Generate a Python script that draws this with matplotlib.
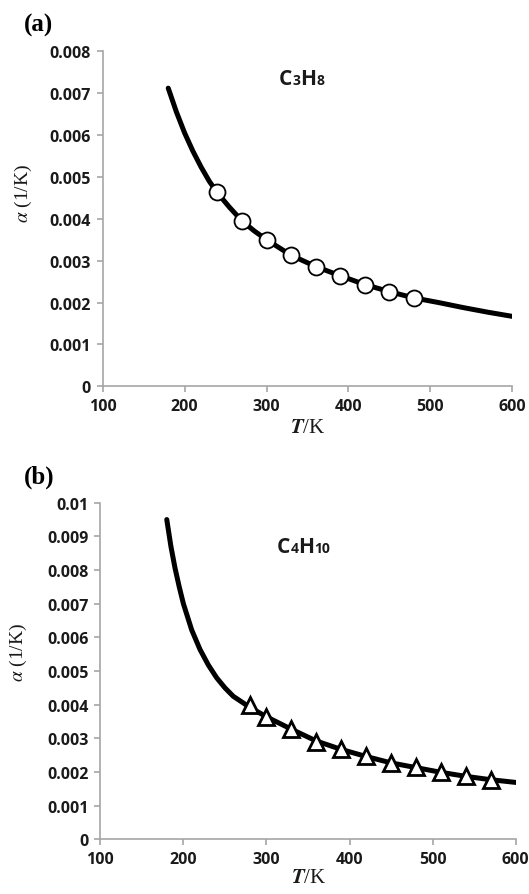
import matplotlib
matplotlib.use('Agg')
import matplotlib.pyplot as plt
from matplotlib.offsetbox import TextArea, HPacker, AnnotationBbox

plt.rcParams['mathtext.fontset'] = 'stix'

# ---- data ----
# (a) C3H8 : smooth curve + circles
T_a_line = [180, 190, 200, 210, 220, 230, 240, 255, 270, 285, 300, 330, 360,
            390, 420, 450, 480, 510, 540, 570, 600]
alpha_a_line = [7.12e-3, 6.55e-3, 6.05e-3, 5.62e-3, 5.24e-3, 4.90e-3, 4.62e-3,
                4.27e-3, 3.95e-3, 3.71e-3, 3.50e-3, 3.13e-3, 2.86e-3, 2.64e-3,
                2.43e-3, 2.26e-3, 2.11e-3, 2.00e-3, 1.88e-3, 1.77e-3, 1.67e-3]
T_a_pts = [240, 270, 300, 330, 360, 390, 420, 450, 480]
alpha_a_pts = [4.64e-3, 3.95e-3, 3.50e-3, 3.13e-3, 2.86e-3, 2.64e-3, 2.42e-3,
               2.26e-3, 2.11e-3]

# (b) C4H10 : smooth curve + triangles
T_b_line = [180, 185, 190, 195, 200, 210, 220, 230, 240, 250, 260, 280, 300,
            330, 360, 390, 420, 450, 480, 510, 540, 570, 600]
alpha_b_line = [9.50e-3, 8.70e-3, 8.05e-3, 7.50e-3, 7.00e-3, 6.22e-3, 5.64e-3,
                5.18e-3, 4.80e-3, 4.50e-3, 4.25e-3, 3.92e-3, 3.64e-3, 3.27e-3,
                2.92e-3, 2.67e-3, 2.46e-3, 2.27e-3, 2.13e-3, 1.99e-3, 1.87e-3,
                1.77e-3, 1.69e-3]
T_b_pts = [280, 300, 330, 360, 390, 420, 450, 480, 510, 540, 570]
alpha_b_pts = [3.98e-3, 3.64e-3, 3.27e-3, 2.90e-3, 2.68e-3, 2.46e-3, 2.26e-3,
               2.14e-3, 1.99e-3, 1.87e-3, 1.76e-3]

xticks = [100, 200, 300, 400, 500, 600]
yticks_a = [0, 0.001, 0.002, 0.003, 0.004, 0.005, 0.006, 0.007, 0.008]
ylabels_a = ['0', '0.001', '0.002', '0.003', '0.004', '0.005', '0.006', '0.007', '0.008']
yticks_b = [0, 0.001, 0.002, 0.003, 0.004, 0.005, 0.006, 0.007, 0.008, 0.009, 0.01]
ylabels_b = ['0', '0.001', '0.002', '0.003', '0.004', '0.005', '0.006', '0.007',
             '0.008', '0.009', '0.01']

W, H = 529.0, 895.0
fig = plt.figure(figsize=(W / 100, H / 100), dpi=100)
GRAY = '#a6a6a6'
INK = '#1a1a1a'
SANS = 'Open Sans'

def px_axes(l, t, r, b):  # pixel box (from top-left) -> axes
    return fig.add_axes([l / W, 1 - b / H, (r - l) / W, (b - t) / H])

def style(ax, yticks, ylabels, ymax):
    ax.set_xlim(100, 600)
    ax.set_ylim(0, ymax)
    for s in ['top', 'right']:
        ax.spines[s].set_visible(False)
    for s in ['left', 'bottom']:
        ax.spines[s].set_color(GRAY)
        ax.spines[s].set_linewidth(1.2)
    ax.set_xticks(xticks)
    ax.set_xticklabels([str(v) for v in xticks])
    ax.set_yticks(yticks)
    ax.set_yticklabels(ylabels)
    ax.tick_params(direction='out', length=4.5, width=1.2, color=GRAY, pad=4,
                   labelsize=11.5, labelcolor=INK)
    for lab in ax.get_xticklabels() + ax.get_yticklabels():
        lab.set_fontfamily(SANS)
        lab.set_fontweight('bold')

def ftext(x, y, s, **kw):  # text at pixel position (from top-left)
    return fig.text(x / W, 1 - y / H, s, **kw)

def formula(parts, x, y):
    boxes = []
    for s, big in parts:
        boxes.append(TextArea(s, textprops=dict(fontfamily=SANS, fontweight='bold',
                                                fontsize=15 if big else 10, color=INK)))
    pack = HPacker(children=boxes, align='baseline', pad=0, sep=0)
    ab = AnnotationBbox(pack, (x, H - y), xycoords='figure pixels',
                        box_alignment=(0, 0), frameon=False, pad=0)
    fig.add_artist(ab)

# ---- panel (a) ----
ax1 = px_axes(102.7, 52.3, 512.3, 387.3)
style(ax1, yticks_a, ylabels_a, 0.008)
ax1.plot(T_a_line, alpha_a_line, color='black', lw=3.6, solid_capstyle='round', zorder=2)
ax1.plot(T_a_pts, alpha_a_pts, ls='none', marker='o', ms=11.5, mfc='white',
         mec='black', mew=1.3, zorder=3)

# ---- panel (b) ----
ax2 = px_axes(100.3, 503.7, 515.7, 840.3)
style(ax2, yticks_b, ylabels_b, 0.01)
ax2.plot(T_b_line, alpha_b_line, color='black', lw=3.6, solid_capstyle='round', zorder=2)
ax2.plot(T_b_pts, alpha_b_pts, ls='none', marker='^', ms=12, mfc='white',
         mec='black', mew=2, zorder=3)

# ---- labels ----
serif = 'Liberation Serif'
ftext(24, 25, '(a)', fontfamily=serif, fontweight='bold', fontsize=18, va='center', ha='left')
ftext(24, 477, '(b)', fontfamily=serif, fontweight='bold', fontsize=18, va='center', ha='left')

ftext(23, 193, r'$\alpha$ (1/K)', fontfamily=serif, fontsize=14, rotation=90,
      va='center', ha='center', color=INK)
ftext(18, 652, r'$\alpha$ (1/K)', fontfamily=serif, fontsize=14, rotation=90,
      va='center', ha='center', color=INK)

ftext(308, 433, r'$\mathbfit{T}$/K', fontfamily=serif, fontsize=15, ha='center',
      va='baseline', color=INK)
ftext(309, 883, r'$\mathbfit{T}$/K', fontfamily=serif, fontsize=15, ha='center',
      va='baseline', color=INK)

formula([('C', True), ('3', False), ('H', True), ('8', False)], 279, 90)
formula([('C', True), ('4', False), ('H', True), ('10', False)], 277, 558)

fig.savefig('out.png', dpi=100)
